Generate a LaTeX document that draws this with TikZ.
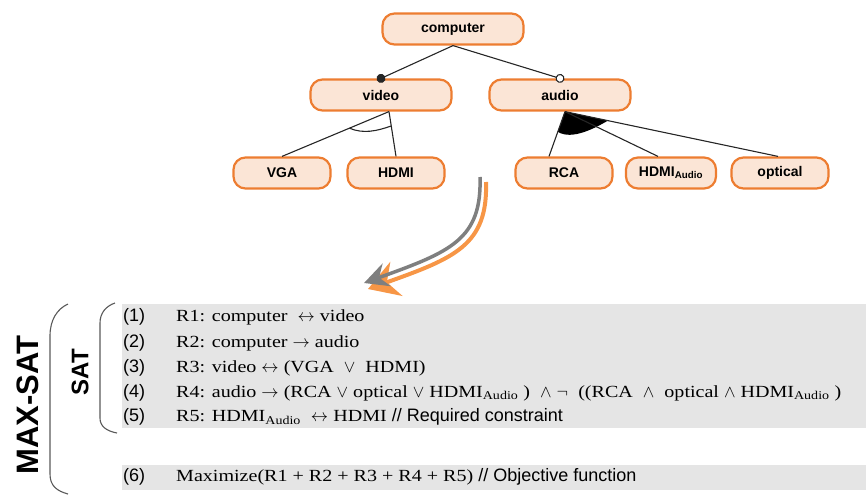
\documentclass[tikz,border=0pt]{standalone}
\usepackage{amsmath}
\usepackage{fontspec}
\setmainfont{Liberation Serif}[FakeStretch=1.18]
\setsansfont{Liberation Sans}
\usepackage{tikz}
\usetikzlibrary{positioning, arrows.meta, calc}
\definecolor{featline}{HTML}{ED7D31}
\definecolor{featfill}{HTML}{FBE5D6}
\definecolor{arrorange}{HTML}{F79646}
\definecolor{arrgray}{HTML}{7F7F7F}

\begin{document}
\begin{tikzpicture}[x=1pt, y=-1pt,
		feat/.style={draw=featline, fill=featfill, line width=2.2pt, rounded corners=12pt,
			minimum height=31pt, minimum width=97pt, inner sep=2pt,
			font=\sffamily\bfseries\fontsize{14}{16}\selectfont},
		ln/.style={black!85, line width=1.1pt},
		num/.style={anchor=west, inner sep=0pt, font=\sffamily\fontsize{18}{20}\selectfont},
		rule/.style={anchor=west, inner sep=0pt, font=\fontsize{17}{19}\selectfont},
		brace/.style={black!65, line width=1.1pt}]
	\useasboundingbox (0,0) rectangle (866,498);
	% feature tree
	\node[feat, minimum width=141pt] (comp)  at (453,29) {computer};
	\node[feat, minimum width=141pt] (video) at (381,95) {video};
	\node[feat, minimum width=141pt] (audio) at (560,95) {audio};
	\node[feat] (vga)     at (282,173) {VGA};
	\node[feat] (hdmi)    at (396,173) {HDMI};
	\node[feat] (rca)     at (564,173) {RCA};
	\node[feat, minimum width=90pt] (hdmia) at (671,173) {HDMI\textsubscript{Audio}};
	\node[feat] (optical) at (780,173) {optical};
	\draw[ln, -{Circle[length=9pt]}, shorten >=-4.5pt] (comp.south) -- (video.north);
	\draw[ln, -{Circle[open, length=9pt, fill=white]}, shorten >=-4.5pt] (comp.south) -- (audio.north);
	\coordinate (vs) at ([xshift=8pt]video.south);
	\coordinate (as) at ([xshift=5pt]audio.south);
	\foreach \t in {vga, hdmi}
		\draw[ln] (vs) -- (\t.north);
	\draw[ln] ($(vs)!0.37!(vga.north)$) .. controls +(14,6) and +(-14,5) .. ($(vs)!0.32!(hdmi.north)$);
	\fill[black] (as) -- ($(as)!0.45!([xshift=-15pt]rca.north)$)
		.. controls +(14,9) and +(-12,7) .. ($(as)!0.2!(optical.north)$) -- cycle;
	\foreach \t/\s in {rca/-15, hdmia/-13, optical/-2}
		\draw[ln] (as) -- ([xshift=\s pt]\t.north);
	% transformation arrow
	\coordinate (oS) at (486,182);
	\coordinate (oE) at (368,289);
	\coordinate (gS) at (480,177);
	\coordinate (gE) at (364,283);
	\draw[arrorange, line width=4pt, -{Stealth[length=30pt, width=36pt, inset=10pt]}]
		(oS) .. controls (488,245) and (455,258) .. (oE);
	\draw[arrgray, line width=3.5pt, -{Stealth[length=24pt, width=24pt, inset=8pt]}]
		(gS) .. controls (482,240) and (450,252) .. (gE);
	% constraint panels
	\fill[gray!20] (122,304) rectangle (866,428);
	\fill[gray!20] (122,465) rectangle (866,490);
	\node[num] (n1) at (123,317) {(1)};
	\node[num] (n2) at (123,343) {(2)};
	\node[num] (n3) at (123,368) {(3)};
	\node[num] (n4) at (123,393) {(4)};
	\node[num] (n5) at (123,417) {(5)};
	\node[num] (n6) at (123,477) {(6)};
	\node[rule] (r1) at (176,317) {R1: computer \ $\leftrightarrow$ video};
	\node[rule] (r2) at (176,343) {R2: computer $\rightarrow$ audio};
	\node[rule] (r3) at (176,368) {R3: video $\leftrightarrow$ (VGA \ $\vee$ \ HDMI)};
	\node[rule] (r4) at (176,393) {R4: audio $\rightarrow$ (RCA $\vee$ optical $\vee$ HDMI\textsubscript{Audio} ) \ $\wedge$ $\neg$ \ ((RCA \ $\wedge$ \ optical $\wedge$ HDMI\textsubscript{Audio} )};
	\node[rule] (r5) at (176,417) {R5: HDMI\textsubscript{Audio} \ $\leftrightarrow$ HDMI {\sffamily\fontsize{18}{20}\selectfont // Required constraint}};
	\node[rule] (r6) at (176,477) {Maximize(R1 + R2 + R3 + R4 + R5) {\sffamily\fontsize{18}{20}\selectfont // Objective function}};
	% brackets
	\draw[brace] (68,304) .. controls (57,309) and (50,320) .. (50,336) -- (50,474)
		.. controls (50,486) and (57,491) .. (68,494);
	\draw[brace] (115,303) .. controls (106,306) and (100,313) .. (100,323) -- (100,418)
		.. controls (100,426) and (106,431) .. (117,433);
	\node[rotate=90, inner sep=0pt, font=\sffamily\bfseries\fontsize{31}{31}\selectfont] (maxsat) at (28,405) {MAX-SAT};
	\node[rotate=90, inner sep=0pt, font=\sffamily\bfseries\fontsize{24}{24}\selectfont] (sat) at (80,372) {SAT};
\end{tikzpicture}
\end{document}
